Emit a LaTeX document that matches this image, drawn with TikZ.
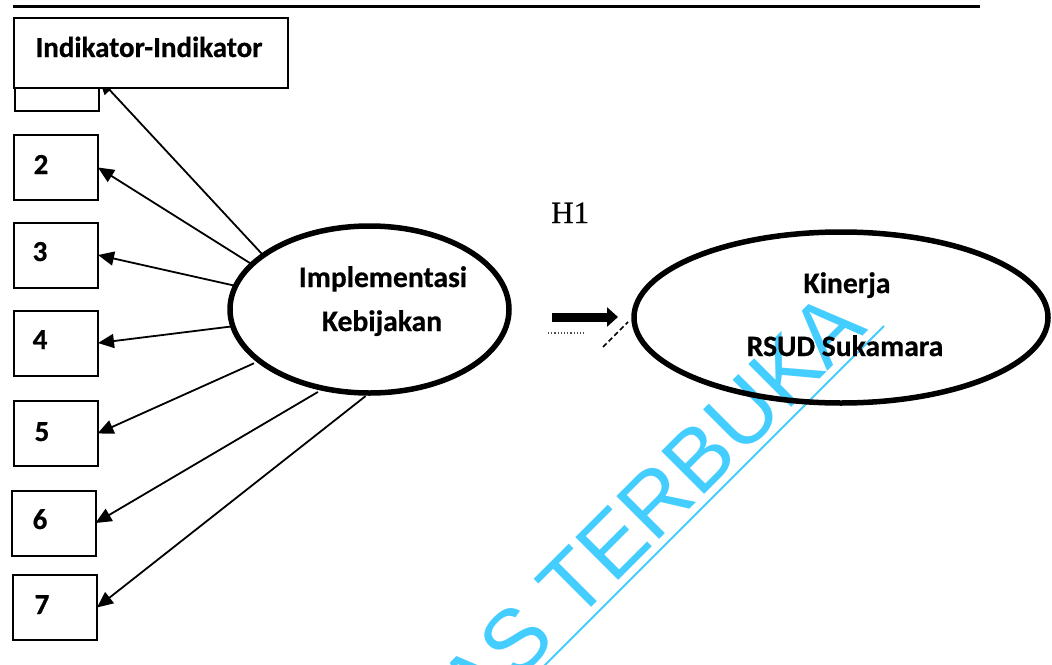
\documentclass[tikz,border=0pt]{standalone}
\usepackage{fontspec}
\setmainfont{Carlito}[BoldFeatures={FakeBold=0.6}]
\newfontfamily\hfont{Liberation Serif}[FakeBold=0.5]
\newfontfamily\wmfont{Liberation Sans}
\usetikzlibrary{arrows.meta,shapes.geometric}
\definecolor{wmcyan}{RGB}{68,205,255}
\tikzset{
  ind/.style={draw, line width=2pt, minimum width=84pt, minimum height=65pt,
    inner sep=0pt, outer sep=0pt, fill=white},
  lat/.style={draw, ellipse, line width=5.5pt, inner sep=0pt, outer sep=0pt},
  lbl/.style={font=\fontsize{29.6}{31}\selectfont\bfseries, inner sep=0pt, anchor=base},
  num/.style={font=\fontsize{29}{31}\selectfont\bfseries, inner sep=0pt, anchor=base},
  load/.style={line width=1.8pt, -{Triangle[length=16pt,width=14pt]}},
}
\begin{document}
\begin{tikzpicture}[x=1pt,y=-1pt]
\useasboundingbox[fill=white] (0,0) rectangle (1052,664);

% rule across the top of the page
\draw[line width=2.5pt] (13,6.5) -- (980,6.5);

% indicator boxes
\node[ind] (b1) at (57,78.5) {};
\node[ind] (b2) at (56,167.5) {};
\node[ind] (b3) at (56,255) {};
\node[ind] (b4) at (56,343) {};
\node[ind] (b5) at (55.5,433.5) {};
\node[ind] (b6) at (53.5,523) {};
\node[ind] (b7) at (55,607.5) {};

\node[num] (n2) at (41,174) {2};
\node[num] (n3) at (40,261) {3};
\node[num] (n4) at (40,349) {4};
\node[num] (n5) at (42,441) {5};
\node[num] (n6) at (40,529) {6};
\node[num] (n7) at (42,614) {7};

% latent variables
\node[lat, minimum width=279pt, minimum height=167pt] (imp) at (369.5,309.5) {};
\node[lbl] (impA) at (383,287) {Implementasi};
\node[lbl] (impB) at (382,331) {Kebijakan};

\node[lat, minimum width=414pt, minimum height=171pt] (kin) at (841,317.5) {};
\node[lbl] (kinA) at (847,293) {Kinerja};
\node[lbl] (kinB) at (845,356) {RSUD Sukamara};

% loadings
\draw[load] (imp.153) -- (b1.east);
\draw[load] (imp.159) -- (b2.east);
\draw[load] (imp.170) -- (b3.east);
\draw[load] (imp.187) -- (b4.east);
\draw[load, shorten <=6pt] (imp.205) -- (b5.east);
\draw[load, shorten <=7pt] (imp.240) -- (b6.east);
\draw[load, shorten <=5pt] (imp.270) -- (b7.east);

% heading box laid over the first indicator
\node[draw, line width=2pt, fill=white, inner sep=0pt, outer sep=0pt,
      minimum width=274pt, minimum height=70pt] (head) at (151,53) {};
\node[lbl, font=\fontsize{29}{31}\selectfont\bfseries] (headT) at (149,57) {Indikator-Indikator};

% hypothesis H1
\coordinate (h1a) at (552,317);
\coordinate (h1b) at (618,317);
\draw[line width=9pt, -{Triangle[length=11pt,width=19pt]}] (h1a) -- (h1b);
\node[font=\hfont\fontsize{31}{33}\selectfont, inner sep=0pt, anchor=base west] (h1) at (551,223) {H1};
\coordinate (sp1) at (548,333);
\coordinate (sp2) at (585,333);
\draw[line width=1.2pt, dotted, black!70] (sp1) -- (sp2);
\coordinate (dg1) at (603,347);
\coordinate (dg2) at (628,322);
\draw[line width=1.6pt, dash pattern=on 5pt off 3pt] (dg1) -- (dg2);

% watermark
\begin{scope}[blend mode=multiply]
\node[text=wmcyan, font=\wmfont\fontsize{88}{90}\selectfont, inner sep=0pt,
      anchor=base west, rotate=45] (wm) at (475,724) {AS TERBUKA};
\coordinate (ul1) at (520,690);
\coordinate (ul2) at (884,326);
\draw[wmcyan, line width=2pt] (ul1) -- (ul2);
\end{scope}
\end{tikzpicture}
\end{document}
